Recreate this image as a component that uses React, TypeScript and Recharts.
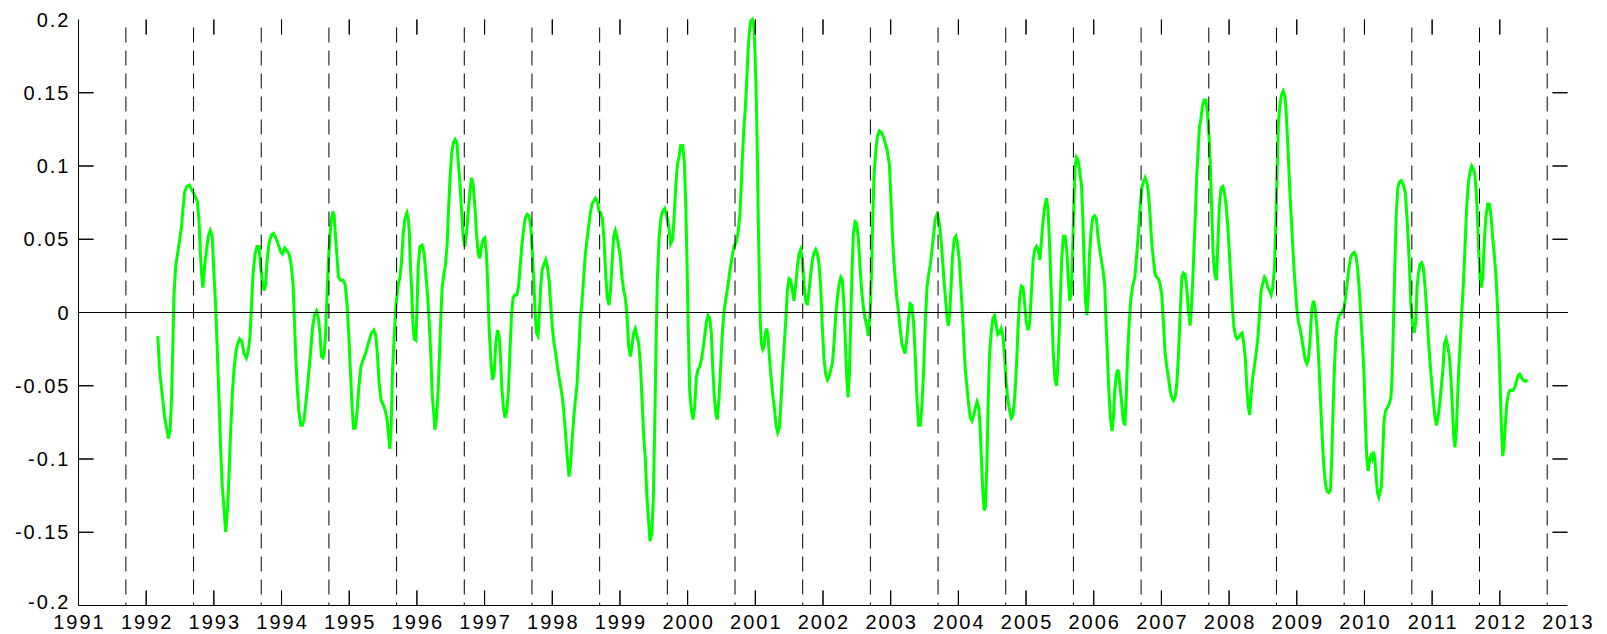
import React from "react";
import { ComposedChart, Line, Scatter, XAxis, YAxis, ReferenceLine } from "recharts";

const FONT = '"Liberation Sans", Arial, Helvetica, sans-serif';

// axis ticks
const yearTicks = [
  1991, 1992, 1993, 1994, 1995, 1996, 1997, 1998, 1999, 2000, 2001, 2002,
  2003, 2004, 2005, 2006, 2007, 2008, 2009, 2010, 2011, 2012, 2013,
];
const valueTicks = [-0.2, -0.15, -0.1, -0.05, 0, 0.05, 0.1, 0.15, 0.2];

// dashed season markers, one per year
const seasonMarks = [
  1991.7, 1992.7, 1993.7, 1994.7, 1995.7, 1996.7, 1997.7, 1998.7, 1999.7,
  2000.7, 2001.7, 2002.7, 2003.7, 2004.7, 2005.7, 2006.7, 2007.7, 2008.7,
  2009.7, 2010.7, 2011.7, 2012.7,
];

// anomaly series as [decimal year, value]
const anomaly1992to1995 = [
  [1992.172,-0.016],[1992.197,-0.039],[1992.236,-0.056],[1992.271,-0.071],[1992.306,-0.080],[1992.330,-0.086],
  [1992.355,-0.079],[1992.375,-0.058],[1992.394,-0.023],[1992.409,0.010],[1992.434,0.031],[1992.463,0.040],
  [1992.493,0.049],[1992.523,0.059],[1992.542,0.070],[1992.567,0.082],[1992.601,0.086],[1992.641,0.087],
  [1992.680,0.083],[1992.715,0.080],[1992.754,0.076],[1992.779,0.064],[1992.799,0.042],[1992.819,0.026],
  [1992.838,0.017],[1992.863,0.031],[1992.888,0.042],[1992.917,0.052],[1992.947,0.056],[1992.976,0.052],
  [1992.996,0.031],[1993.026,0.005],[1993.050,-0.025],[1993.075,-0.058],[1993.100,-0.093],[1993.124,-0.119],
  [1993.149,-0.133],[1993.174,-0.150],[1993.203,-0.133],[1993.223,-0.112],[1993.248,-0.081],[1993.272,-0.056],
  [1993.297,-0.039],[1993.322,-0.028],[1993.346,-0.022],[1993.381,-0.018],[1993.415,-0.020],[1993.445,-0.028],
  [1993.480,-0.031],[1993.509,-0.026],[1993.534,-0.016],[1993.554,0.003],[1993.578,0.026],[1993.608,0.040],
  [1993.637,0.045],[1993.667,0.045],[1993.692,0.031],[1993.716,0.021],[1993.741,0.015],[1993.766,0.019],
  [1993.785,0.035],[1993.815,0.047],[1993.850,0.053],[1993.884,0.054],[1993.914,0.051],[1993.948,0.047],
  [1993.983,0.042],[1994.012,0.040],[1994.047,0.044],[1994.081,0.042],[1994.111,0.040],[1994.141,0.033],
  [1994.170,0.019],[1994.185,0.001],[1994.205,-0.025],[1994.229,-0.049],[1994.254,-0.067],[1994.284,-0.077],
  [1994.308,-0.077],[1994.333,-0.073],[1994.363,-0.060],[1994.392,-0.046],[1994.427,-0.028],[1994.456,-0.011],
  [1994.486,-0.002],[1994.516,0.001],[1994.545,-0.004],[1994.570,-0.016],[1994.589,-0.030],[1994.609,-0.031],
  [1994.629,-0.028],[1994.649,-0.016],[1994.663,0.001],[1994.678,0.019],[1994.698,0.040],[1994.718,0.054],
  [1994.737,0.064],[1994.757,0.069],[1994.777,0.066],[1994.797,0.052],[1994.816,0.040],[1994.841,0.024],
  [1994.871,0.022],[1994.910,0.022],[1994.940,0.019],[1994.969,0.005],[1994.994,-0.016],[1995.019,-0.042],
  [1995.043,-0.065],[1995.063,-0.079],[1995.088,-0.079],[1995.112,-0.070],[1995.142,-0.051],[1995.172,-0.037],
  [1995.206,-0.032],[1995.241,-0.028],[1995.270,-0.023],[1995.300,-0.018],[1995.329,-0.014],[1995.364,-0.012],
  [1995.393,-0.016],[1995.418,-0.030],[1995.443,-0.049],[1995.472,-0.060],[1995.502,-0.063],[1995.532,-0.067],
  [1995.556,-0.072],[1995.581,-0.084],[1995.601,-0.093],[1995.620,-0.077],[1995.640,-0.039],[1995.665,-0.016],
  [1995.690,0.005],[1995.724,0.019],
];

const anomaly1995to1999 = [
  [1995.749,0.024],[1995.773,0.035],[1995.798,0.054],[1995.823,0.064],[1995.852,0.068],[1995.872,0.064],
  [1995.887,0.056],[1995.901,0.035],[1995.921,0.017],[1995.941,-0.007],[1995.960,-0.018],[1995.985,-0.019],
  [1996.000,0.000],[1996.019,0.031],[1996.044,0.045],[1996.078,0.046],[1996.108,0.040],[1996.132,0.026],
  [1996.157,0.012],[1996.182,-0.007],[1996.206,-0.030],[1996.226,-0.056],[1996.251,-0.070],[1996.265,-0.080],
  [1996.290,-0.072],[1996.314,-0.053],[1996.334,-0.028],[1996.354,-0.002],[1996.373,0.017],[1996.398,0.026],
  [1996.423,0.033],[1996.447,0.047],[1996.467,0.070],[1996.492,0.094],[1996.516,0.110],[1996.541,0.116],
  [1996.565,0.118],[1996.590,0.116],[1996.610,0.103],[1996.634,0.089],[1996.659,0.070],[1996.683,0.052],
  [1996.708,0.045],[1996.733,0.054],[1996.757,0.068],[1996.782,0.082],[1996.807,0.092],[1996.831,0.087],
  [1996.856,0.073],[1996.880,0.054],[1996.905,0.040],[1996.929,0.037],[1996.954,0.045],[1996.979,0.050],
  [1997.003,0.051],[1997.028,0.040],[1997.047,0.017],[1997.067,-0.011],[1997.092,-0.032],[1997.116,-0.046],
  [1997.141,-0.042],[1997.165,-0.021],[1997.190,-0.012],[1997.215,-0.016],[1997.234,-0.030],[1997.254,-0.051],
  [1997.279,-0.065],[1997.303,-0.072],[1997.328,-0.067],[1997.353,-0.053],[1997.372,-0.030],[1997.397,-0.002],
  [1997.421,0.010],[1997.446,0.012],[1997.475,0.012],[1997.500,0.017],[1997.525,0.031],[1997.549,0.045],
  [1997.574,0.056],[1997.599,0.064],[1997.628,0.067],[1997.657,0.066],[1997.682,0.059],[1997.707,0.040],
  [1997.726,0.022],[1997.746,0.001],[1997.766,-0.014],[1997.790,-0.016],[1997.810,0.000],[1997.830,0.019],
  [1997.854,0.030],[1997.879,0.033],[1997.903,0.036],[1997.928,0.031],[1997.953,0.022],[1997.977,0.005],
  [1998.002,-0.011],[1998.026,-0.021],[1998.051,-0.028],[1998.076,-0.037],[1998.100,-0.044],[1998.125,-0.051],
  [1998.149,-0.058],[1998.174,-0.070],[1998.199,-0.084],[1998.223,-0.100],[1998.248,-0.112],[1998.267,-0.105],
  [1998.292,-0.088],[1998.317,-0.072],[1998.341,-0.060],[1998.366,-0.049],[1998.390,-0.028],[1998.415,-0.004],
  [1998.440,0.008],[1998.464,0.024],[1998.489,0.040],[1998.513,0.050],[1998.538,0.059],[1998.563,0.068],
  [1998.587,0.074],[1998.612,0.076],[1998.636,0.078],[1998.666,0.076],[1998.690,0.069],[1998.715,0.068],
  [1998.740,0.064],[1998.764,0.050],[1998.789,0.026],[1998.813,0.010],[1998.838,0.005],[1998.863,0.017],
  [1998.882,0.033],[1998.907,0.052],[1998.932,0.056],[1998.956,0.052],[1998.981,0.045],[1999.005,0.038],
  [1999.030,0.024],[1999.055,0.015],[1999.079,0.010],[1999.104,-0.002],[1999.128,-0.023],[1999.153,-0.030],
  [1999.178,-0.023],[1999.202,-0.014],[1999.227,-0.011],[1999.251,-0.016],[1999.276,-0.021],[1999.301,-0.035],
  [1999.325,-0.058],[1999.350,-0.084],
];

const anomaly1999to2002 = [
  [1999.375,-0.100],[1999.395,-0.123],[1999.419,-0.140],[1999.444,-0.156],[1999.469,-0.151],[1999.493,-0.128],
  [1999.513,-0.079],[1999.533,-0.023],[1999.552,0.022],[1999.577,0.050],[1999.602,0.064],[1999.631,0.069],
  [1999.661,0.071],[1999.690,0.066],[1999.720,0.059],[1999.749,0.047],[1999.779,0.050],[1999.799,0.064],
  [1999.823,0.085],[1999.848,0.101],[1999.872,0.106],[1999.897,0.114],[1999.927,0.114],[1999.951,0.103],
  [1999.971,0.075],[1999.991,0.033],[2000.010,-0.014],[2000.030,-0.053],[2000.055,-0.067],[2000.079,-0.073],
  [2000.104,-0.065],[2000.129,-0.044],[2000.153,-0.039],[2000.178,-0.037],[2000.203,-0.032],[2000.227,-0.025],
  [2000.252,-0.016],[2000.276,-0.007],[2000.301,-0.002],[2000.326,-0.004],[2000.350,-0.014],[2000.370,-0.037],
  [2000.395,-0.058],[2000.419,-0.070],[2000.439,-0.073],[2000.464,-0.058],[2000.488,-0.037],[2000.513,-0.014],
  [2000.538,0.001],[2000.567,0.010],[2000.597,0.019],[2000.626,0.029],[2000.656,0.038],[2000.685,0.045],
  [2000.715,0.048],[2000.744,0.054],[2000.774,0.068],[2000.803,0.099],[2000.828,0.124],[2000.853,0.140],
  [2000.872,0.157],[2000.892,0.178],[2000.912,0.192],[2000.932,0.199],[2000.956,0.200],[2000.981,0.194],
  [2000.996,0.176],[2001.015,0.145],[2001.030,0.106],[2001.045,0.059],[2001.060,0.022],[2001.074,-0.007],
  [2001.089,-0.021],[2001.109,-0.025],[2001.129,-0.023],[2001.148,-0.014],[2001.168,-0.011],[2001.188,-0.016],
  [2001.207,-0.030],[2001.232,-0.044],[2001.257,-0.056],[2001.281,-0.065],[2001.306,-0.077],[2001.331,-0.082],
  [2001.355,-0.079],[2001.380,-0.060],[2001.404,-0.039],[2001.429,-0.021],[2001.454,-0.002],[2001.473,0.015],
  [2001.498,0.023],[2001.523,0.022],[2001.547,0.015],[2001.572,0.008],[2001.597,0.019],[2001.621,0.031],
  [2001.646,0.040],[2001.670,0.043],[2001.695,0.036],[2001.720,0.019],[2001.744,0.008],[2001.769,0.005],
  [2001.794,0.015],[2001.818,0.026],[2001.843,0.036],[2001.868,0.041],[2001.892,0.043],[2001.917,0.040],
  [2001.941,0.033],[2001.966,0.017],[2001.991,-0.011],[2002.015,-0.032],[2002.040,-0.042],[2002.065,-0.046],
  [2002.089,-0.044],[2002.114,-0.039],[2002.138,-0.035],[2002.163,-0.021],[2002.188,-0.002],[2002.212,0.010],
  [2002.237,0.019],[2002.262,0.024],[2002.286,0.022],[2002.311,0.003],[2002.331,-0.021],[2002.350,-0.044],
  [2002.370,-0.058],[2002.390,-0.042],[2002.409,-0.007],[2002.429,0.029],[2002.449,0.054],[2002.474,0.062],
  [2002.498,0.061],[2002.523,0.050],[2002.547,0.031],[2002.572,0.015],[2002.597,0.003],[2002.621,-0.004],
  [2002.646,-0.009],[2002.670,-0.016],[2002.695,-0.002],[2002.715,0.026],[2002.735,0.064],[2002.754,0.094],
  [2002.779,0.110],[2002.803,0.120],[2002.833,0.124],[2002.863,0.123],[2002.892,0.120],[2002.922,0.115],
  [2002.951,0.110],[2002.981,0.101],
];

const anomaly2003to2006 = [
  [2002.995,0.087],[2003.015,0.064],[2003.040,0.040],[2003.065,0.024],[2003.090,0.010],[2003.114,0.001],
  [2003.139,-0.011],[2003.164,-0.021],[2003.189,-0.025],[2003.214,-0.028],[2003.239,-0.018],[2003.263,-0.004],
  [2003.288,0.006],[2003.313,0.005],[2003.338,-0.007],[2003.363,-0.030],[2003.387,-0.058],[2003.412,-0.077],
  [2003.437,-0.077],[2003.462,-0.063],[2003.487,-0.039],[2003.511,-0.007],[2003.536,0.017],[2003.561,0.026],
  [2003.586,0.033],[2003.611,0.043],[2003.636,0.054],[2003.660,0.064],[2003.685,0.067],[2003.710,0.064],
  [2003.735,0.054],[2003.760,0.040],[2003.784,0.024],[2003.809,0.010],[2003.834,-0.004],[2003.854,-0.009],
  [2003.874,0.001],[2003.894,0.019],[2003.913,0.038],[2003.938,0.050],[2003.963,0.052],[2003.988,0.047],
  [2004.013,0.036],[2004.038,0.017],[2004.062,-0.002],[2004.082,-0.021],[2004.102,-0.039],[2004.127,-0.051],
  [2004.152,-0.063],[2004.177,-0.072],[2004.201,-0.074],[2004.226,-0.070],[2004.251,-0.065],[2004.276,-0.061],
  [2004.301,-0.065],[2004.320,-0.077],[2004.340,-0.100],[2004.360,-0.121],[2004.380,-0.135],[2004.400,-0.133],
  [2004.420,-0.105],[2004.440,-0.063],[2004.459,-0.030],[2004.484,-0.014],[2004.509,-0.004],[2004.534,-0.002],
  [2004.559,-0.009],[2004.583,-0.015],[2004.608,-0.014],[2004.633,-0.011],[2004.658,-0.016],[2004.683,-0.030],
  [2004.708,-0.049],[2004.732,-0.060],[2004.757,-0.067],[2004.782,-0.072],[2004.807,-0.070],[2004.832,-0.058],
  [2004.856,-0.039],[2004.881,-0.011],[2004.906,0.010],[2004.931,0.018],[2004.956,0.017],[2004.981,0.005],
  [2005.005,-0.007],[2005.030,-0.012],[2005.055,-0.007],[2005.080,0.015],[2005.105,0.036],[2005.129,0.043],
  [2005.154,0.045],[2005.179,0.043],[2005.204,0.036],[2005.229,0.050],[2005.254,0.064],[2005.278,0.073],
  [2005.303,0.078],[2005.328,0.068],[2005.353,0.040],[2005.378,0.005],[2005.402,-0.028],[2005.427,-0.046],
  [2005.452,-0.050],[2005.477,-0.030],[2005.502,0.003],[2005.526,0.036],[2005.551,0.052],[2005.576,0.052],
  [2005.601,0.043],[2005.626,0.022],[2005.646,0.008],[2005.665,0.012],[2005.685,0.036],[2005.705,0.073],
  [2005.725,0.099],[2005.745,0.106],[2005.770,0.104],[2005.794,0.096],[2005.819,0.087],[2005.839,0.064],
  [2005.859,0.033],[2005.879,0.008],[2005.899,-0.002],[2005.919,0.012],[2005.938,0.040],[2005.963,0.057],
  [2005.988,0.065],[2006.013,0.066],[2006.038,0.064],[2006.063,0.052],[2006.087,0.043],[2006.112,0.036],
  [2006.137,0.029],[2006.162,0.019],[2006.182,-0.007],[2006.201,-0.028],[2006.221,-0.051],[2006.246,-0.072],
  [2006.271,-0.081],[2006.291,-0.072],[2006.311,-0.053],[2006.336,-0.042],[2006.360,-0.039],[2006.385,-0.049],
  [2006.410,-0.060],[2006.435,-0.074],[2006.460,-0.077],[2006.480,-0.058],[2006.499,-0.030],[2006.524,-0.007],
  [2006.549,0.010],[2006.579,0.019],[2006.608,0.024],
];

const anomaly2006to2010 = [
  [2006.636,0.040],[2006.660,0.054],[2006.685,0.071],[2006.709,0.085],[2006.734,0.089],[2006.759,0.092],
  [2006.783,0.089],[2006.808,0.082],[2006.833,0.066],[2006.857,0.047],[2006.882,0.036],[2006.906,0.026],
  [2006.931,0.024],[2006.956,0.023],[2006.980,0.019],[2007.005,0.012],[2007.030,-0.007],[2007.054,-0.028],
  [2007.079,-0.037],[2007.103,-0.044],[2007.128,-0.053],[2007.153,-0.058],[2007.177,-0.060],[2007.202,-0.058],
  [2007.227,-0.049],[2007.251,-0.030],[2007.276,-0.002],[2007.301,0.024],[2007.325,0.027],[2007.350,0.026],
  [2007.374,0.017],[2007.399,0.001],[2007.424,-0.009],[2007.443,0.003],[2007.463,0.022],[2007.483,0.045],
  [2007.502,0.068],[2007.522,0.094],[2007.542,0.110],[2007.562,0.127],[2007.581,0.131],[2007.606,0.141],
  [2007.631,0.145],[2007.655,0.145],[2007.680,0.136],[2007.704,0.120],[2007.724,0.099],[2007.744,0.068],
  [2007.764,0.040],[2007.788,0.026],[2007.813,0.022],[2007.838,0.052],[2007.857,0.073],[2007.882,0.085],
  [2007.906,0.086],[2007.931,0.082],[2007.956,0.073],[2007.980,0.059],[2008.005,0.040],[2008.030,0.019],
  [2008.049,0.003],[2008.069,-0.009],[2008.094,-0.016],[2008.118,-0.018],[2008.143,-0.017],[2008.168,-0.015],
  [2008.192,-0.014],[2008.217,-0.021],[2008.241,-0.032],[2008.261,-0.051],[2008.286,-0.065],[2008.305,-0.070],
  [2008.325,-0.056],[2008.350,-0.044],[2008.374,-0.037],[2008.399,-0.028],[2008.424,-0.018],[2008.448,-0.002],
  [2008.473,0.015],[2008.498,0.020],[2008.522,0.024],[2008.547,0.022],[2008.571,0.017],[2008.596,0.015],
  [2008.621,0.012],[2008.645,0.017],[2008.670,0.031],[2008.690,0.059],[2008.709,0.096],[2008.729,0.129],
  [2008.749,0.141],[2008.773,0.148],[2008.798,0.151],[2008.823,0.148],[2008.842,0.138],[2008.862,0.120],
  [2008.882,0.099],[2008.906,0.075],[2008.931,0.054],[2008.951,0.036],[2008.975,0.019],[2009.000,0.003],
  [2009.025,-0.007],[2009.049,-0.011],[2009.074,-0.018],[2009.099,-0.025],[2009.123,-0.032],[2009.148,-0.035],
  [2009.172,-0.032],[2009.197,-0.018],[2009.222,0.003],[2009.246,0.008],[2009.271,0.003],[2009.296,-0.009],
  [2009.320,-0.028],[2009.340,-0.049],[2009.360,-0.070],[2009.379,-0.088],[2009.399,-0.105],[2009.424,-0.117],
  [2009.448,-0.122],[2009.473,-0.123],[2009.498,-0.121],[2009.517,-0.098],[2009.537,-0.065],[2009.557,-0.037],
  [2009.576,-0.018],[2009.601,-0.007],[2009.626,-0.002],[2009.650,-0.001],[2009.675,0.001],[2009.700,0.003],
  [2009.724,0.012],[2009.749,0.022],[2009.773,0.031],[2009.798,0.038],[2009.823,0.040],[2009.847,0.041],
  [2009.872,0.039],[2009.897,0.031],[2009.921,0.017],[2009.946,-0.002],[2009.970,-0.021],[2009.995,-0.044],
  [2010.015,-0.077],[2010.035,-0.100],[2010.054,-0.108],[2010.074,-0.101],[2010.094,-0.098],[2010.113,-0.100],
  [2010.133,-0.095],[2010.153,-0.100],[2010.172,-0.112],[2010.192,-0.123],[2010.212,-0.126],
];

const anomaly2010to2012 = [
  [2010.250,-0.119],[2010.270,-0.095],[2010.289,-0.074],[2010.313,-0.067],[2010.337,-0.065],[2010.362,-0.063],
  [2010.391,-0.058],[2010.410,-0.042],[2010.429,-0.007],[2010.449,0.033],[2010.468,0.066],[2010.492,0.085],
  [2010.516,0.089],[2010.545,0.090],[2010.574,0.087],[2010.603,0.082],[2010.627,0.066],[2010.647,0.049],
  [2010.666,0.030],[2010.685,0.005],[2010.709,-0.007],[2010.734,-0.014],[2010.758,-0.007],[2010.777,0.017],
  [2010.796,0.026],[2010.821,0.033],[2010.845,0.034],[2010.869,0.031],[2010.893,0.019],[2010.917,0.003],
  [2010.941,-0.016],[2010.965,-0.032],[2010.990,-0.046],[2011.014,-0.058],[2011.038,-0.070],[2011.062,-0.077],
  [2011.086,-0.072],[2011.110,-0.063],[2011.135,-0.051],[2011.159,-0.039],[2011.183,-0.021],[2011.207,-0.018],
  [2011.231,-0.023],[2011.255,-0.030],[2011.279,-0.046],[2011.299,-0.065],[2011.318,-0.084],[2011.337,-0.092],
  [2011.357,-0.081],[2011.376,-0.058],[2011.395,-0.037],[2011.415,-0.021],[2011.434,-0.002],[2011.453,0.012],
  [2011.473,0.031],[2011.492,0.052],[2011.511,0.073],[2011.536,0.089],[2011.560,0.096],[2011.584,0.100],
  [2011.608,0.098],[2011.632,0.094],[2011.651,0.082],[2011.671,0.064],[2011.690,0.040],[2011.709,0.022],
  [2011.729,0.017],[2011.748,0.024],[2011.772,0.050],[2011.796,0.066],[2011.821,0.074],[2011.845,0.074],
  [2011.869,0.066],[2011.893,0.052],[2011.917,0.040],[2011.941,0.026],[2011.965,0.005],[2011.985,-0.021],
  [2012.004,-0.049],[2012.023,-0.077],[2012.043,-0.098],[2012.062,-0.091],[2012.081,-0.077],[2012.101,-0.063],
  [2012.125,-0.056],[2012.149,-0.053],[2012.173,-0.053],[2012.197,-0.053],[2012.222,-0.051],[2012.246,-0.047],
  [2012.270,-0.043],[2012.294,-0.042],[2012.318,-0.044],[2012.342,-0.046],[2012.376,-0.047],[2012.410,-0.046],
];

const series = [
  ...anomaly1992to1995,
  ...anomaly1995to1999,
  ...anomaly1999to2002,
  ...anomaly2003to2006,
  ...anomaly2006to2010,
  ...anomaly2010to2012,
].map(([t, v]) => ({ t, v }));

const X_MIN = 1991;
const X_MAX = 2013;
const Y_MIN = -0.2;
const Y_MAX = 0.2;

// plot box, set by the chart size, margins and axis sizes below
const CHART_W = 1607;
const CHART_H = 634;
const MARGIN = { top: 19.5, right: 39.5, bottom: 0, left: 0 };
const X_AXIS_H = 28.5;
const Y_AXIS_W = 78.5;
const PLOT_W = CHART_W - MARGIN.left - MARGIN.right - Y_AXIS_W;
const PLOT_H = CHART_H - MARGIN.top - MARGIN.bottom - X_AXIS_H;
const TICK_PX = 15;

const innerYears = yearTicks.filter((y) => y > X_MIN && y < X_MAX);
const innerValues = valueTicks.filter((v) => v > Y_MIN && v < Y_MAX);

// tick marks along the top and right edges; each also draws its partner on the opposite edge
const topMarks = innerYears.map((t) => ({ t, v: Y_MAX }));
const rightMarks = innerValues.map((v) => ({ t: X_MAX, v }));

const yearMark = ({ cx, cy }: any) => (
  <g stroke="#000">
    <line x1={cx} x2={cx} y1={cy} y2={cy + TICK_PX} />
    <line x1={cx} x2={cx} y1={cy + PLOT_H} y2={cy + PLOT_H - TICK_PX} />
  </g>
);
const valueMark = ({ cx, cy }: any) => (
  <g stroke="#000">
    <line x1={cx} x2={cx - TICK_PX} y1={cy} y2={cy} />
    <line x1={cx - PLOT_W} x2={cx - PLOT_W + TICK_PX} y1={cy} y2={cy} />
  </g>
);

// inward ticks drawn as labels of invisible grid lines, taking the line's box from the chart
const YearTickPair = (props: any) => {
  const vb = props.viewBox;
  if (!vb) return null;
  const x = vb.x;
  const top = vb.y;
  const bottom = vb.y + vb.height;
  return (
    <g stroke="#000" fill="none">
      <line x1={x} x2={x} y1={bottom} y2={bottom - TICK_PX} />
      <line x1={x} x2={x} y1={top} y2={top + TICK_PX} />
    </g>
  );
};
const ValueTickPair = (props: any) => {
  const vb = props.viewBox;
  if (!vb) return null;
  const y = vb.y;
  const left = vb.x;
  const right = vb.x + vb.width;
  return (
    <g stroke="#000" fill="none">
      <line x1={left} x2={left + TICK_PX} y1={y} y2={y} />
      <line x1={right} x2={right - TICK_PX} y1={y} y2={y} />
    </g>
  );
};

const BottomTick = ({ x, y, payload }: any) => (
  <text
    x={x + 1}
    y={y + 23}
    textAnchor="middle"
    fontSize={20}
    letterSpacing={2}
    fontFamily={FONT}
    fill="#000"
  >
    {payload.value}
  </text>
);

// the lowest label sits a little above its tick, clear of the year labels
const LeftTick = ({ x, y, payload }: any) => (
  <text
    x={x - 8}
    y={payload.value === Y_MIN ? y + 3.5 : y + 7}
    textAnchor="end"
    fontSize={20}
    letterSpacing={2}
    fontFamily={FONT}
    fill="#000"
  >
    {String(payload.value)}
  </text>
);

export default function App() {
  return (
    <div style={{ position: "absolute", left: 0, top: 0, width: CHART_W, height: CHART_H, background: "#fff" }}>
      <ComposedChart width={CHART_W} height={CHART_H} data={series} margin={MARGIN}>
        <XAxis
          xAxisId="b"
          dataKey="t"
          type="number"
          domain={[X_MIN, X_MAX]}
          ticks={yearTicks}
          interval={0}
          height={X_AXIS_H}
          tickSize={0}
          tickMargin={0}
          tickLine={false}
          axisLine={{ stroke: "#000" }}
          tick={BottomTick}
        />
        <XAxis
          xAxisId="t"
          orientation="top"
          type="number"
          domain={[X_MIN, X_MAX]}
          height={0}
          tick={false}
          tickLine={false}
          axisLine={{ stroke: "#000" }}
        />
        <YAxis
          yAxisId="l"
          type="number"
          domain={[Y_MIN, Y_MAX]}
          ticks={valueTicks}
          interval={0}
          width={Y_AXIS_W}
          tickSize={0}
          tickMargin={0}
          tickLine={false}
          axisLine={{ stroke: "#000" }}
          tick={LeftTick}
        />
        <YAxis
          yAxisId="r"
          orientation="right"
          type="number"
          domain={[Y_MIN, Y_MAX]}
          width={0}
          tick={false}
          tickLine={false}
          axisLine={{ stroke: "#000" }}
        />
        <Line
          xAxisId="b"
          yAxisId="l"
          type="linear"
          dataKey="v"
          stroke="#00ff00"
          strokeWidth={3}
          dot={false}
          activeDot={false}
          isAnimationActive={false}
        />
        <ReferenceLine xAxisId="b" yAxisId="l" y={0} stroke="#000" />
        {seasonMarks.map((m) => (
          <ReferenceLine
            key={`s${m}`}
            xAxisId="b"
            yAxisId="l"
            segment={[{ x: m, y: Y_MAX }, { x: m, y: Y_MIN }]}
            stroke="#000"
            strokeDasharray="15 8"
            strokeDashoffset={15}
            ifOverflow="visible"
          />
        ))}
        {innerYears.map((yr) => (
          <ReferenceLine
            key={`ty${yr}`}
            xAxisId="b"
            yAxisId="l"
            x={yr}
            stroke="none"
            ifOverflow="visible"
            label={YearTickPair}
          />
        ))}
        {innerValues.map((v) => (
          <ReferenceLine
            key={`tv${v}`}
            xAxisId="b"
            yAxisId="l"
            y={v}
            stroke="none"
            ifOverflow="visible"
            label={ValueTickPair}
          />
        ))}
        <Scatter
          xAxisId="b"
          yAxisId="l"
          data={topMarks}
          dataKey="v"
          shape={yearMark}
          zIndex={2500}
          isAnimationActive={false}
        />
        <Scatter
          xAxisId="b"
          yAxisId="l"
          data={rightMarks}
          dataKey="v"
          shape={valueMark}
          zIndex={2500}
          isAnimationActive={false}
        />
      </ComposedChart>
    </div>
  );
}
